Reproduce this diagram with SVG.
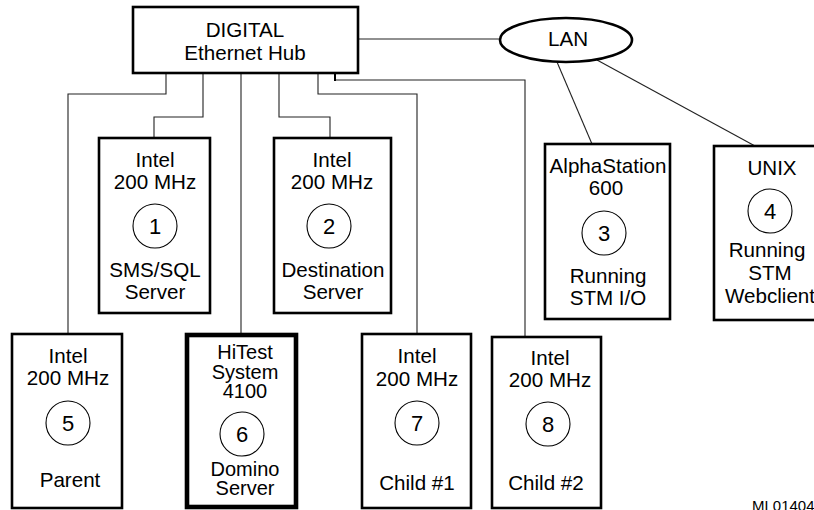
<svg xmlns="http://www.w3.org/2000/svg" width="814" height="510" viewBox="0 0 814 510">
<style>
text{font-family:"Liberation Sans",Arial,sans-serif;font-size:20.6px;text-anchor:middle;fill:#000}
.num{font-size:22px}
.tight{font-size:20px}
.box{fill:#fff;stroke:#000;stroke-width:2.6}
.thick{fill:#fff;stroke:#000;stroke-width:4.6}
.circ{fill:none;stroke:#000;stroke-width:1.1}
.conn{fill:none;stroke:#222;stroke-width:1.1}
.small{font-size:15px;text-anchor:start}
</style>
<rect width="814" height="510" fill="#fff"/>
<g id="connectors">
<path class="conn" d="M358 39H500"/>
<path class="conn" d="M335 80H525V337"/>
<path d="M335 73V81" stroke="#000" stroke-width="2" fill="none"/>
<path class="conn" d="M318 73V94H417V334"/>
<path class="conn" d="M279 73V117H330V138"/>
<path class="conn" d="M241 73V333"/>
<path class="conn" d="M203 73V117H154V138"/>
<path class="conn" d="M166 73V94H68V334"/>
<path class="conn" d="M557 62L592 144"/>
<path class="conn" d="M597 60L755 146"/>
</g>
<g id="hub">
<rect class="box" x="133" y="7" width="225" height="66"/>
<text x="245" y="37">DIGITAL</text>
<text x="245" y="60">Ethernet Hub</text>
</g>
<g id="lan">
<ellipse cx="566" cy="40" rx="66" ry="22" fill="#fff" stroke="#000" stroke-width="2.6"/>
<text x="568" y="46">LAN</text>
</g>
<g id="node1">
<rect class="box" x="99" y="138" width="111" height="175"/>
<text x="155" y="167">Intel</text>
<text x="155" y="189">200 MHz</text>
<circle class="circ" cx="155" cy="226" r="22"/>
<text class="num" x="155" y="234">1</text>
<text x="155" y="277">SMS/SQL</text>
<text x="155" y="299">Server</text>
</g>
<g id="node2">
<rect class="box" x="274" y="138" width="117" height="175"/>
<text x="332" y="167">Intel</text>
<text x="332" y="189">200 MHz</text>
<circle class="circ" cx="329" cy="226" r="22"/>
<text class="num" x="329" y="234">2</text>
<text x="333" y="277">Destination</text>
<text x="333" y="299">Server</text>
</g>
<g id="node3">
<rect class="box" x="545" y="144" width="125" height="175"/>
<text x="608" y="173">AlphaStation</text>
<text x="606" y="195">600</text>
<circle class="circ" cx="604" cy="233" r="22"/>
<text class="num" x="604" y="241">3</text>
<text x="608" y="283">Running</text>
<text x="608" y="305">STM I/O</text>
</g>
<g id="node4">
<rect class="box" x="714" y="146" width="112" height="174"/>
<text x="772" y="175">UNIX</text>
<circle class="circ" cx="770" cy="211" r="22"/>
<text class="num" x="770" y="219">4</text>
<text x="767" y="257">Running</text>
<text x="770" y="280">STM</text>
<text x="770" y="303">Webclient</text>
</g>
<g id="node5">
<rect class="box" x="12" y="334" width="110" height="174"/>
<text x="68" y="363">Intel</text>
<text x="68" y="385">200 MHz</text>
<circle class="circ" cx="68" cy="423" r="22"/>
<text class="num" x="68" y="431">5</text>
<text x="70" y="487">Parent</text>
</g>
<g id="node6">
<rect class="thick" x="187" y="335" width="109" height="172"/>
<text class="tight" x="245" y="359">HiTest</text>
<text class="tight" x="245" y="379">System</text>
<text class="tight" x="245" y="398">4100</text>
<circle class="circ" cx="242" cy="434" r="22"/>
<text class="num" x="242" y="442">6</text>
<text class="tight" x="245" y="476">Domino</text>
<text class="tight" x="245" y="495">Server</text>
</g>
<g id="node7">
<rect class="box" x="362" y="334" width="109" height="174"/>
<text x="417" y="363">Intel</text>
<text x="417" y="386">200 MHz</text>
<circle class="circ" cx="417" cy="423" r="22"/>
<text class="num" x="417" y="431">7</text>
<text x="417" y="490">Child #1</text>
</g>
<g id="node8">
<rect class="box" x="492" y="337" width="109" height="171"/>
<text x="550" y="365">Intel</text>
<text x="550" y="387">200 MHz</text>
<circle class="circ" cx="548" cy="424" r="22"/>
<text class="num" x="548" y="432">8</text>
<text x="546" y="490">Child #2</text>
</g>
<text class="small" x="752" y="511">ML01404</text>
</svg>
